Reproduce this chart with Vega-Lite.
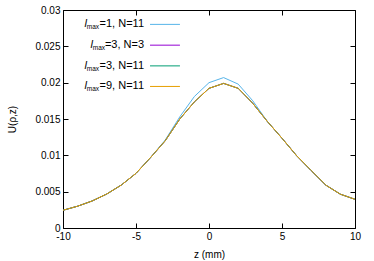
{
  "$schema": "https://vega.github.io/schema/vega-lite/v6.json",
  "width": 292,
  "height": 218,
  "autosize": "none",
  "padding": {"left": 63, "top": 10, "right": 19, "bottom": 33},
  "background": "white",
  "config": {
    "view": {"stroke": null},
    "font": "Liberation Sans",
    "axis": {
      "domainColor": "#000", "tickColor": "#000", "labelColor": "#000", "titleColor": "#000",
      "grid": false, "labelFont": "Liberation Sans", "labelFontSize": 10,
      "titleFont": "Liberation Sans", "titleFontSize": 10, "titleFontWeight": "normal",
      "domainWidth": 1, "tickWidth": 1, "labelFlush": false, "labelOverlap": false, "labelBound": false
    }
  },
  "datasets": {
    "curves": [
      {"series": "lmax=1, N=11", "z": -10, "U": 0.00244},
      {"series": "lmax=1, N=11", "z": -9, "U": 0.00300},
      {"series": "lmax=1, N=11", "z": -8, "U": 0.00372},
      {"series": "lmax=1, N=11", "z": -7, "U": 0.00468},
      {"series": "lmax=1, N=11", "z": -6, "U": 0.00592},
      {"series": "lmax=1, N=11", "z": -5, "U": 0.00752},
      {"series": "lmax=1, N=11", "z": -4, "U": 0.00970},
      {"series": "lmax=1, N=11", "z": -3, "U": 0.01210},
      {"series": "lmax=1, N=11", "z": -2, "U": 0.01530},
      {"series": "lmax=1, N=11", "z": -1, "U": 0.01810},
      {"series": "lmax=1, N=11", "z": 0, "U": 0.02000},
      {"series": "lmax=1, N=11", "z": 1, "U": 0.02070},
      {"series": "lmax=1, N=11", "z": 2, "U": 0.01980},
      {"series": "lmax=1, N=11", "z": 3, "U": 0.01750},
      {"series": "lmax=1, N=11", "z": 4, "U": 0.01465},
      {"series": "lmax=1, N=11", "z": 5, "U": 0.01235},
      {"series": "lmax=1, N=11", "z": 6, "U": 0.00995},
      {"series": "lmax=1, N=11", "z": 7, "U": 0.00790},
      {"series": "lmax=1, N=11", "z": 8, "U": 0.00590},
      {"series": "lmax=1, N=11", "z": 9, "U": 0.00465},
      {"series": "lmax=1, N=11", "z": 10, "U": 0.00395},
      {"series": "lmax=3, N=3", "z": -10, "U": 0.00244},
      {"series": "lmax=3, N=3", "z": -9, "U": 0.00300},
      {"series": "lmax=3, N=3", "z": -8, "U": 0.00372},
      {"series": "lmax=3, N=3", "z": -7, "U": 0.00468},
      {"series": "lmax=3, N=3", "z": -6, "U": 0.00592},
      {"series": "lmax=3, N=3", "z": -5, "U": 0.00752},
      {"series": "lmax=3, N=3", "z": -4, "U": 0.00970},
      {"series": "lmax=3, N=3", "z": -3, "U": 0.01200},
      {"series": "lmax=3, N=3", "z": -2, "U": 0.01500},
      {"series": "lmax=3, N=3", "z": -1, "U": 0.01736},
      {"series": "lmax=3, N=3", "z": 0, "U": 0.01922},
      {"series": "lmax=3, N=3", "z": 1, "U": 0.01990},
      {"series": "lmax=3, N=3", "z": 2, "U": 0.01922},
      {"series": "lmax=3, N=3", "z": 3, "U": 0.01715},
      {"series": "lmax=3, N=3", "z": 4, "U": 0.01465},
      {"series": "lmax=3, N=3", "z": 5, "U": 0.01235},
      {"series": "lmax=3, N=3", "z": 6, "U": 0.00995},
      {"series": "lmax=3, N=3", "z": 7, "U": 0.00790},
      {"series": "lmax=3, N=3", "z": 8, "U": 0.00590},
      {"series": "lmax=3, N=3", "z": 9, "U": 0.00465},
      {"series": "lmax=3, N=3", "z": 10, "U": 0.00395},
      {"series": "lmax=3, N=11", "z": -10, "U": 0.00244},
      {"series": "lmax=3, N=11", "z": -9, "U": 0.00300},
      {"series": "lmax=3, N=11", "z": -8, "U": 0.00372},
      {"series": "lmax=3, N=11", "z": -7, "U": 0.00468},
      {"series": "lmax=3, N=11", "z": -6, "U": 0.00592},
      {"series": "lmax=3, N=11", "z": -5, "U": 0.00752},
      {"series": "lmax=3, N=11", "z": -4, "U": 0.00970},
      {"series": "lmax=3, N=11", "z": -3, "U": 0.01200},
      {"series": "lmax=3, N=11", "z": -2, "U": 0.01500},
      {"series": "lmax=3, N=11", "z": -1, "U": 0.01736},
      {"series": "lmax=3, N=11", "z": 0, "U": 0.01922},
      {"series": "lmax=3, N=11", "z": 1, "U": 0.01990},
      {"series": "lmax=3, N=11", "z": 2, "U": 0.01922},
      {"series": "lmax=3, N=11", "z": 3, "U": 0.01715},
      {"series": "lmax=3, N=11", "z": 4, "U": 0.01465},
      {"series": "lmax=3, N=11", "z": 5, "U": 0.01235},
      {"series": "lmax=3, N=11", "z": 6, "U": 0.00995},
      {"series": "lmax=3, N=11", "z": 7, "U": 0.00790},
      {"series": "lmax=3, N=11", "z": 8, "U": 0.00590},
      {"series": "lmax=3, N=11", "z": 9, "U": 0.00465},
      {"series": "lmax=3, N=11", "z": 10, "U": 0.00395},
      {"series": "lmax=9, N=11", "z": -10, "U": 0.00244},
      {"series": "lmax=9, N=11", "z": -9, "U": 0.00300},
      {"series": "lmax=9, N=11", "z": -8, "U": 0.00372},
      {"series": "lmax=9, N=11", "z": -7, "U": 0.00468},
      {"series": "lmax=9, N=11", "z": -6, "U": 0.00592},
      {"series": "lmax=9, N=11", "z": -5, "U": 0.00752},
      {"series": "lmax=9, N=11", "z": -4, "U": 0.00970},
      {"series": "lmax=9, N=11", "z": -3, "U": 0.01200},
      {"series": "lmax=9, N=11", "z": -2, "U": 0.01500},
      {"series": "lmax=9, N=11", "z": -1, "U": 0.01736},
      {"series": "lmax=9, N=11", "z": 0, "U": 0.01922},
      {"series": "lmax=9, N=11", "z": 1, "U": 0.01990},
      {"series": "lmax=9, N=11", "z": 2, "U": 0.01922},
      {"series": "lmax=9, N=11", "z": 3, "U": 0.01715},
      {"series": "lmax=9, N=11", "z": 4, "U": 0.01465},
      {"series": "lmax=9, N=11", "z": 5, "U": 0.01235},
      {"series": "lmax=9, N=11", "z": 6, "U": 0.00995},
      {"series": "lmax=9, N=11", "z": 7, "U": 0.00790},
      {"series": "lmax=9, N=11", "z": 8, "U": 0.00590},
      {"series": "lmax=9, N=11", "z": 9, "U": 0.00465},
      {"series": "lmax=9, N=11", "z": 10, "U": 0.00395}
    ],
    "keys": [
      {"series": "lmax=1, N=11", "rest": "=1, N=11", "row": 1, "ly": 0.02802},
      {"series": "lmax=3, N=3", "rest": "=3, N=3", "row": 2, "ly": 0.02516},
      {"series": "lmax=3, N=11", "rest": "=3, N=11", "row": 3, "ly": 0.02231},
      {"series": "lmax=9, N=11", "rest": "=9, N=11", "row": 4, "ly": 0.01948}
    ]
  },
  "layer": [
    {
      "data": {"name": "curves"},
      "mark": {"type": "line", "strokeWidth": 1},
      "encoding": {
        "x": {"field": "z", "type": "quantitative",
          "scale": {"domain": [-10, 10], "nice": false},
          "axis": {"values": [-10, -5, 0, 5, 10], "tickSize": -5, "labelPadding": 8,
            "labelExpr": "datum.value + ''", "title": "z (mm)", "titlePadding": 8}},
        "y": {"field": "U", "type": "quantitative",
          "scale": {"domain": [0, 0.03], "nice": false},
          "axis": {"values": [0, 0.005, 0.01, 0.015, 0.02, 0.025, 0.03], "tickSize": -5,
            "labelPadding": 8, "format": "~g", "title": "U(ρ,z)", "titlePadding": 17}},
        "color": {"field": "series", "type": "nominal",
          "scale": {"domain": ["lmax=1, N=11", "lmax=3, N=3", "lmax=3, N=11", "lmax=9, N=11"],
            "range": ["#56b4e9", "#9400d3", "#009e73", "#e69f00"]},
          "legend": null}
      }
    },
    {
      "data": {"name": "curves"},
      "mark": {"type": "point", "opacity": 0},
      "encoding": {
        "x": {"field": "z", "type": "quantitative",
          "axis": {"orient": "top", "values": [-10, -5, 0, 5, 10], "tickSize": -5, "labels": false, "title": null}},
        "y": {"field": "U", "type": "quantitative",
          "axis": {"orient": "right", "values": [0, 0.005, 0.01, 0.015, 0.02, 0.025, 0.03], "tickSize": -5, "labels": false, "title": null}}
      }
    },
    {
      "data": {"name": "keys"},
      "mark": {"type": "rule", "strokeWidth": 1},
      "encoding": {
        "x": {"datum": -4.04, "type": "quantitative", "axis": null},
        "x2": {"datum": -1.99},
        "y": {"field": "ly", "type": "quantitative", "axis": null},
        "color": {"field": "series", "type": "nominal", "legend": null}
      }
    },
    {
      "data": {"name": "keys"},
      "mark": {"type": "text", "align": "right", "baseline": "middle", "fontSize": 11, "color": "#000"},
      "encoding": {
        "x": {"datum": -4.45, "type": "quantitative", "axis": null},
        "y": {"field": "ly", "type": "quantitative", "axis": null},
        "text": {"field": "rest"}
      }
    },
    {
      "data": {"name": "keys"},
      "transform": [{"filter": "datum.row != 2"}],
      "mark": {"type": "text", "align": "right", "baseline": "middle", "fontSize": 6.5, "dx": -45, "dy": 3, "color": "#000"},
      "encoding": {
        "x": {"datum": -4.45, "type": "quantitative", "axis": null},
        "y": {"field": "ly", "type": "quantitative", "axis": null},
        "text": {"value": "max"}
      }
    },
    {
      "data": {"name": "keys"},
      "transform": [{"filter": "datum.row == 2"}],
      "mark": {"type": "text", "align": "right", "baseline": "middle", "fontSize": 6.5, "dx": -39, "dy": 3, "color": "#000"},
      "encoding": {
        "x": {"datum": -4.45, "type": "quantitative", "axis": null},
        "y": {"field": "ly", "type": "quantitative", "axis": null},
        "text": {"value": "max"}
      }
    },
    {
      "data": {"name": "keys"},
      "transform": [{"filter": "datum.row != 2"}],
      "mark": {"type": "text", "align": "right", "baseline": "middle", "fontSize": 11, "fontStyle": "italic", "dx": -57, "color": "#000"},
      "encoding": {
        "x": {"datum": -4.45, "type": "quantitative", "axis": null},
        "y": {"field": "ly", "type": "quantitative", "axis": null},
        "text": {"value": "l"}
      }
    },
    {
      "data": {"name": "keys"},
      "transform": [{"filter": "datum.row == 2"}],
      "mark": {"type": "text", "align": "right", "baseline": "middle", "fontSize": 11, "fontStyle": "italic", "dx": -51, "color": "#000"},
      "encoding": {
        "x": {"datum": -4.45, "type": "quantitative", "axis": null},
        "y": {"field": "ly", "type": "quantitative", "axis": null},
        "text": {"value": "l"}
      }
    }
  ],
  "resolve": {"axis": {"x": "independent", "y": "independent"}}
}
